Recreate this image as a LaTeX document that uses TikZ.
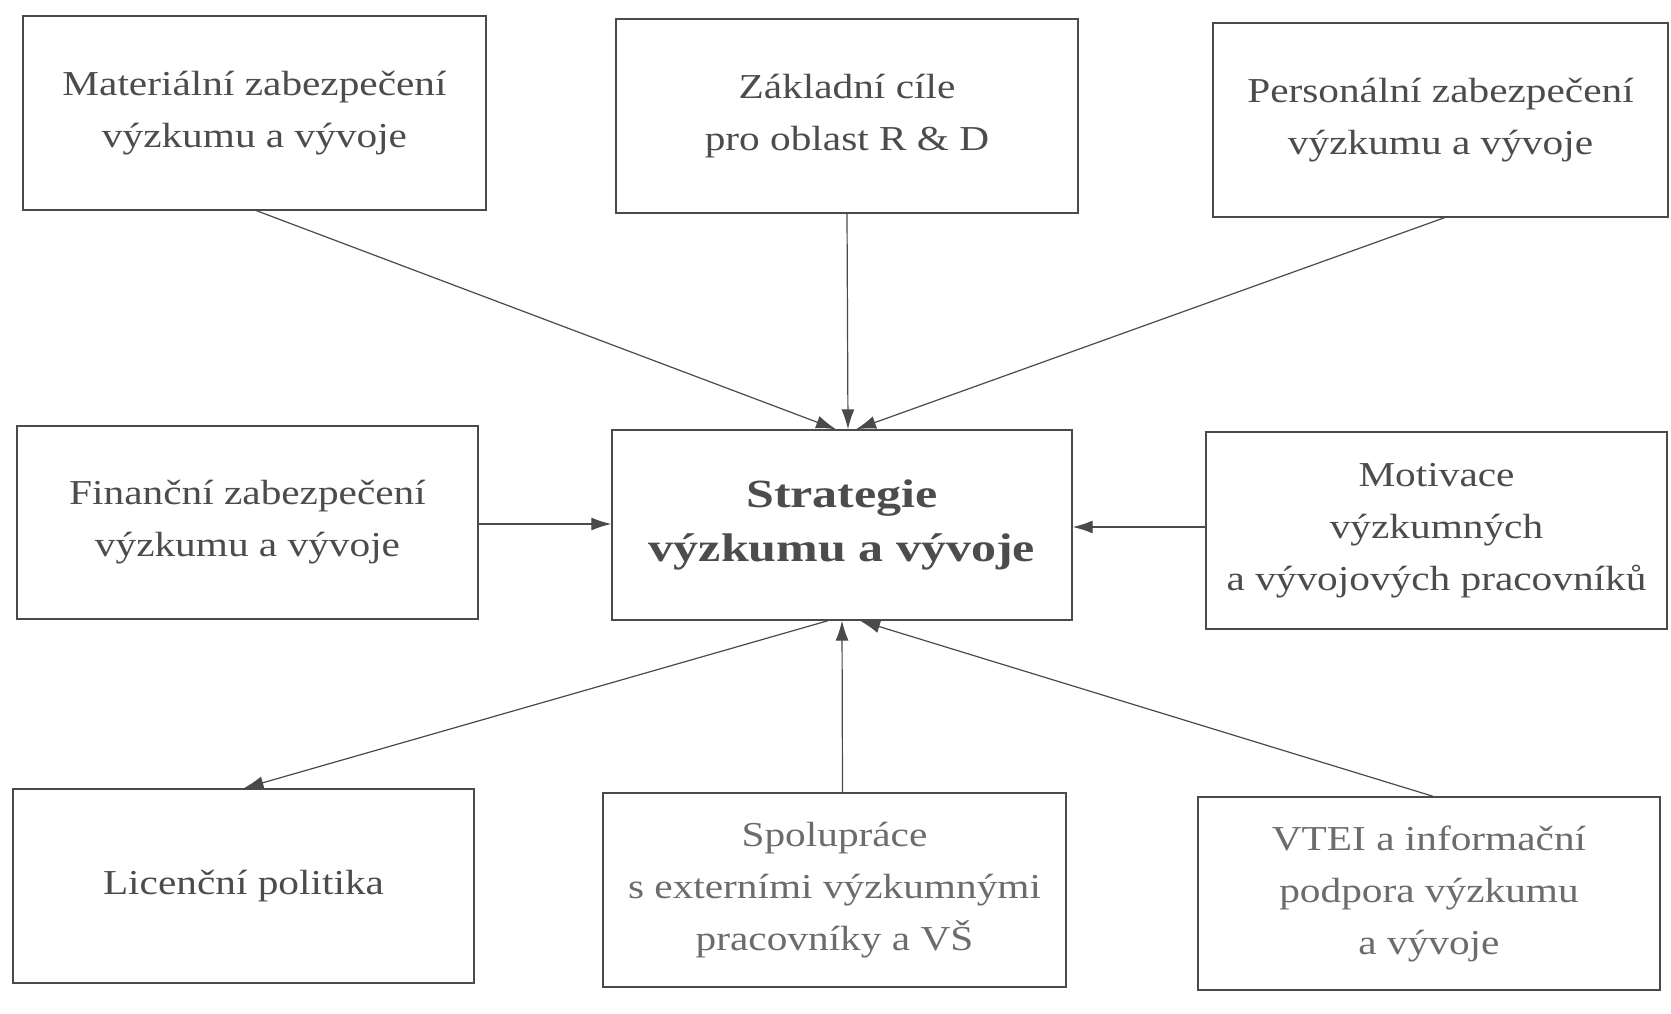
\documentclass[tikz,border=0pt]{standalone}
\usepackage{fontspec}
\setmainfont[FakeStretch=1.18]{Liberation Serif}
\newfontfamily\titlefont[FakeStretch=1.25]{Liberation Serif Bold}
\usetikzlibrary{arrows.meta}
\definecolor{ink}{HTML}{4A4A4A}
\definecolor{txt}{HTML}{4C4C4C}
\definecolor{txtlight}{HTML}{6C6C6C}
\begin{document}
\begin{tikzpicture}[x=1pt,y=-1pt,
  box/.style={draw=ink, line width=1.4pt, align=center, text=txt,
    font=\fontsize{35}{52}\selectfont, inner sep=0pt},
  link/.style={draw=ink, line width=1.2pt, -{Latex[length=20pt,width=13pt]}}]
\useasboundingbox[fill=white] (0,0) rectangle (1671,1014);
% top row
\node[box, minimum width=463pt, minimum height=194pt] (mat) at (254.5,113)
  {Materiální zabezpečení\\výzkumu a vývoje};
\node[box, minimum width=462pt, minimum height=194pt] (zak) at (847,116)
  {Základní cíle\\pro oblast R \& D};
\node[box, minimum width=455pt, minimum height=194pt] (per) at (1440.5,120)
  {Personální zabezpečení\\výzkumu a vývoje};
% middle row
\node[box, minimum width=461pt, minimum height=193pt] (fin) at (247.5,522.5)
  {Finanční zabezpečení\\výzkumu a vývoje};
\node[box, minimum width=460pt, minimum height=190pt,
  font=\titlefont\fontsize{40}{54}\selectfont] (str) at (842,525)
  {Strategie\\výzkumu a vývoje};
\node[box, minimum width=461pt, minimum height=197pt] (mot) at (1436.5,530.5)
  {Motivace\\výzkumných\\a vývojových pracovníků};
% bottom row
\node[box, minimum width=461pt, minimum height=194pt] (lic) at (243.5,886)
  {Licenční politika};
\node[box, minimum width=463pt, minimum height=194pt, text=txtlight] (spo) at (834.5,890)
  {Spolupráce\\s externími výzkumnými\\pracovníky a VŠ};
\node[box, minimum width=462pt, minimum height=193pt, text=txtlight] (vte) at (1429,893.5)
  {VTEI a informační\\podpora výzkumu\\a vývoje};
% connectors
\draw[link] ([xshift=2pt]mat.south) -- ([xshift=-6pt]str.north);
\draw[link] (zak.south) -- ([xshift=6pt]str.north);
\draw[link] ([xshift=4pt]per.south) -- ([xshift=14pt]str.north);
\draw[link] ([yshift=-1.5pt]fin.east) -- ([yshift=-1.5pt]fin.east -| str.west);
\draw[link] ([yshift=3.5pt]mot.west) -- ([yshift=3.5pt]mot.west -| str.east);
\draw[link] ([xshift=-14pt]str.south) -- (lic.north);
\draw[link] ([xshift=8pt]spo.north) -- (str.south);
\draw[link] ([xshift=4pt]vte.north) -- ([xshift=18pt]str.south);
\end{tikzpicture}
\end{document}
